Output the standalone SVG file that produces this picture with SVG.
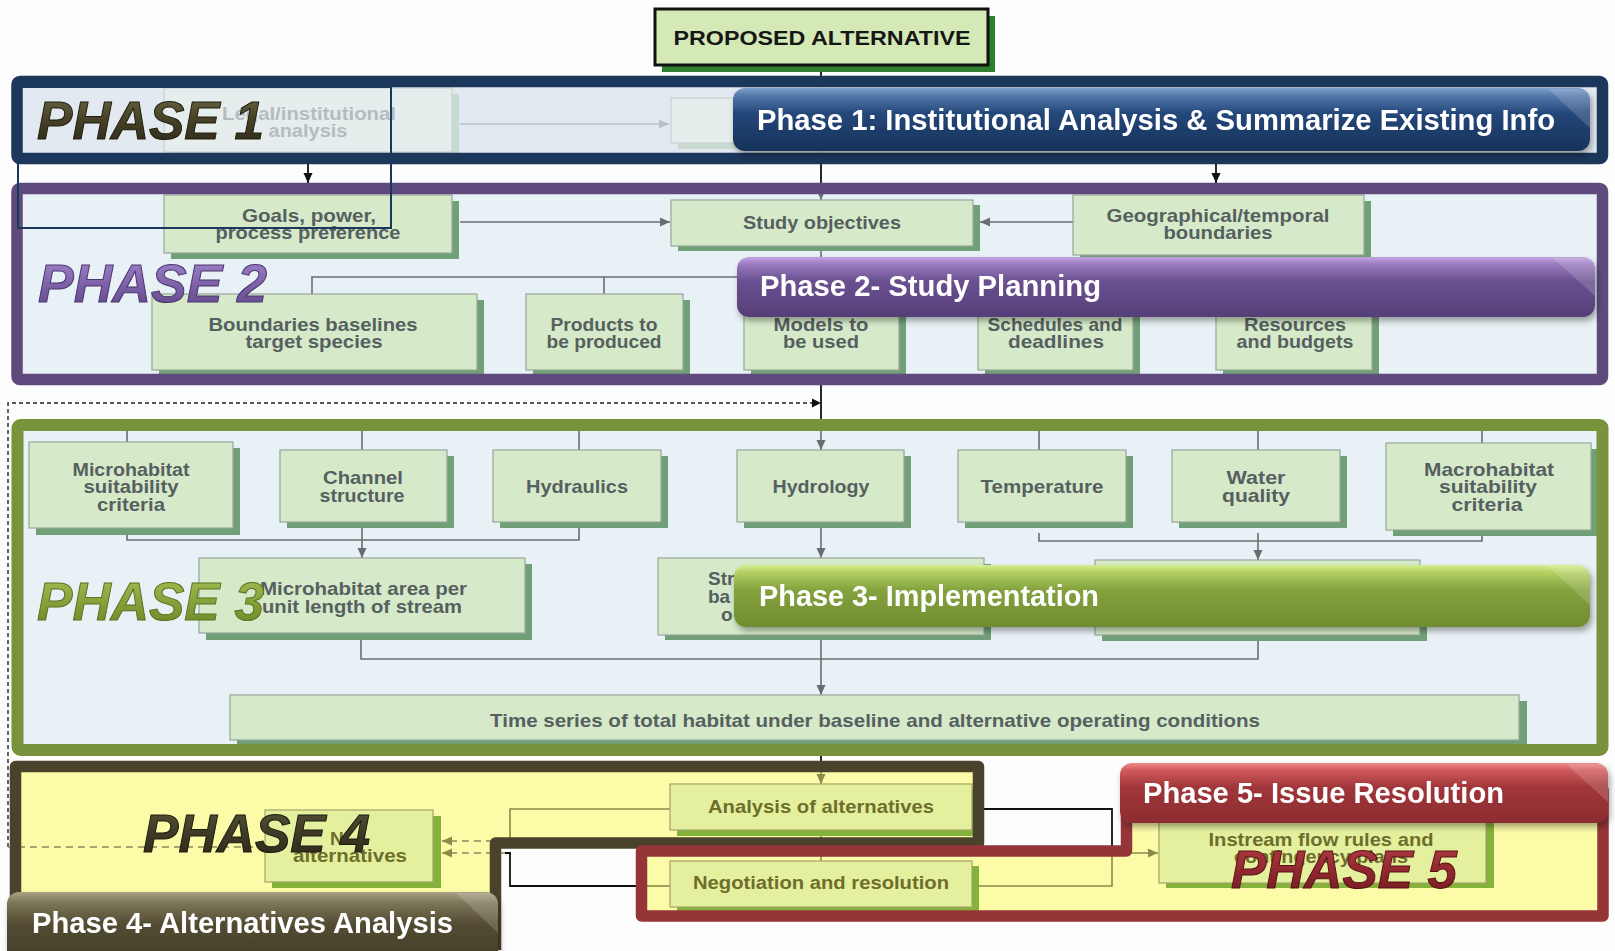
<svg xmlns="http://www.w3.org/2000/svg" width="1615" height="951" viewBox="0 0 1615 951">
<style>
  .bx{fill:#d6eaca;stroke:#97a69a;stroke-width:1.2}
  .sh{fill:#71a078}
  .fbx{fill:#e6eded;stroke:#c9d2d3;stroke-width:1.2}
  .fsh{fill:#c9dad0}
  .ybx{fill:#e4f09e;stroke:#a3a36c;stroke-width:1.2}
  .ysh{fill:#84b23a}
  .bt{font-family:"Liberation Sans",Arial,sans-serif;font-weight:bold;font-size:19px;fill:#566060;text-anchor:middle}
  .ft{fill:#b4bcc2}
  .yt{fill:#6e6e2c}
  .st{text-anchor:start}
  .ln{stroke:#6a6d6f;stroke-width:1.6;fill:none}
  .fl{stroke:#b9c1c8;stroke-width:1.6;fill:none}
  .bk{stroke:#111;stroke-width:1.8;fill:none}
  .ol{stroke:#8a8a4a;stroke-width:1.6;fill:none}
  .dash{stroke:#8a8a62;stroke-width:1.6;fill:none;stroke-dasharray:7 5}
  .dot{stroke:#222;stroke-width:1.4;fill:none;stroke-dasharray:4 3}
  .frame{fill:none;stroke-width:11.5;stroke-linejoin:round}
  .ban{font-family:"Liberation Sans",Arial,sans-serif;font-weight:bold;font-size:29px;fill:#fff}
  .facet{fill:#fff;opacity:0.16}
  .big{font-family:"Liberation Sans",Arial,sans-serif;font-weight:bold;font-style:italic;font-size:53px;stroke-width:1}
</style>
<defs>
  <marker id="aG" markerUnits="userSpaceOnUse" markerWidth="11" markerHeight="10" refX="10" refY="4.5" orient="auto"><path d="M0,0 L10,4.5 L0,9 z" fill="#6a6d6f"/></marker>
  <marker id="aF" markerUnits="userSpaceOnUse" markerWidth="11" markerHeight="10" refX="10" refY="4.5" orient="auto"><path d="M0,0 L10,4.5 L0,9 z" fill="#b9c1c8"/></marker>
  <marker id="aK" markerUnits="userSpaceOnUse" markerWidth="11" markerHeight="10" refX="10" refY="4.5" orient="auto"><path d="M0,0 L10,4.5 L0,9 z" fill="#111"/></marker>
  <marker id="aO" markerUnits="userSpaceOnUse" markerWidth="11" markerHeight="10" refX="10" refY="4.5" orient="auto"><path d="M0,0 L10,4.5 L0,9 z" fill="#8a8a4a"/></marker>
  <filter id="ds" x="-5%" y="-20%" width="110%" height="150%"><feDropShadow dx="2" dy="4" stdDeviation="3" flood-color="#000" flood-opacity="0.35"/></filter>
  <linearGradient id="gB1" x1="0" y1="0" x2="0" y2="1"><stop offset="0" stop-color="#7c9fcd"/><stop offset="0.12" stop-color="#5479aa"/><stop offset="0.4" stop-color="#24477a"/><stop offset="1" stop-color="#173259"/></linearGradient>
  <linearGradient id="gB2" x1="0" y1="0" x2="0" y2="1"><stop offset="0" stop-color="#c2a6e0"/><stop offset="0.12" stop-color="#9a7bc0"/><stop offset="0.4" stop-color="#6a5090"/><stop offset="1" stop-color="#553f78"/></linearGradient>
  <linearGradient id="gB3" x1="0" y1="0" x2="0" y2="1"><stop offset="0" stop-color="#d8ef92"/><stop offset="0.12" stop-color="#b3d062"/><stop offset="0.4" stop-color="#84a23e"/><stop offset="1" stop-color="#708c30"/></linearGradient>
  <linearGradient id="gB4" x1="0" y1="0" x2="0" y2="1"><stop offset="0" stop-color="#a8a286"/><stop offset="0.15" stop-color="#7c7658"/><stop offset="0.45" stop-color="#524b32"/><stop offset="1" stop-color="#443e28"/></linearGradient>
  <linearGradient id="gB5" x1="0" y1="0" x2="0" y2="1"><stop offset="0" stop-color="#f08a8a"/><stop offset="0.12" stop-color="#d05a5c"/><stop offset="0.4" stop-color="#a0363a"/><stop offset="1" stop-color="#8c2c30"/></linearGradient>
  <linearGradient id="gP1" x1="0" y1="0" x2="0" y2="1"><stop offset="0" stop-color="#6e6a44"/><stop offset="0.5" stop-color="#454026"/><stop offset="1" stop-color="#2a2716"/></linearGradient>
  <linearGradient id="gP2" x1="0" y1="0" x2="0" y2="1"><stop offset="0" stop-color="#a68ad0"/><stop offset="0.5" stop-color="#7f62a8"/><stop offset="1" stop-color="#5e4586"/></linearGradient>
  <linearGradient id="gP3" x1="0" y1="0" x2="0" y2="1"><stop offset="0" stop-color="#a9c25a"/><stop offset="0.5" stop-color="#86a23a"/><stop offset="1" stop-color="#6a8526"/></linearGradient>
  <linearGradient id="gP4" x1="0" y1="0" x2="0" y2="1"><stop offset="0" stop-color="#5a5538"/><stop offset="0.5" stop-color="#3e3a26"/><stop offset="1" stop-color="#282616"/></linearGradient>
  <linearGradient id="gP5" x1="0" y1="0" x2="0" y2="1"><stop offset="0" stop-color="#b44048"/><stop offset="0.5" stop-color="#92282f"/><stop offset="1" stop-color="#6e1a20"/></linearGradient>
</defs>

<!-- page -->
<rect width="1615" height="951" fill="#fdfdfd"/>

<!-- phase panel interiors -->
<g id="panel-fills">
  <rect x="17" y="81.5" width="1585.5" height="77" fill="#e3e9f1"/>
  <rect x="17" y="188.5" width="1585.5" height="191" fill="#e8f1f5"/>
  <rect x="17.5" y="425" width="1585" height="325" fill="#e8f1f5"/>
  <path d="M15.5,950 V766.5 H978.5 V843 H495.5 V950 Z" fill="#fbfba8"/>
  <path d="M641.5,851 H1126.5 V790 H1603 V916 H641.5 Z" fill="#fbfba8"/>
</g>

<!-- connectors -->
<g id="connectors">
  <!-- phase 1 -->
  <path class="bk" d="M821,65 V77"/>
  <path class="fl" d="M821,82 V160"/>
  <path class="fl" d="M460,124 H669" marker-end="url(#aF)"/>
  <path class="bk" d="M308,152 V183" marker-end="url(#aK)"/>
  <path class="bk" d="M1216,164 V183" marker-end="url(#aK)"/>
  <path class="bk" d="M821,164 V183"/>
  <!-- phase 2 -->
  <path class="ln" d="M821,192 V200" marker-end="url(#aG)"/>
  <path class="ln" d="M460,222 H670" marker-end="url(#aG)"/>
  <path class="ln" d="M1073,222 H980" marker-end="url(#aG)"/>
  <path class="ln" d="M821,250 V277 M312,294 V277 H1294 V294 M604,277 V294 M821,277 V294 M1055,277 V294"/>
  <!-- phase 2 to phase 3 -->
  <path class="bk" d="M821,373 V420"/>
  <path class="dot" d="M8,847 V403 H812"/>
  <path d="M812,398.5 L821,403 L812,407.5 z" fill="#111"/>
  <!-- phase 3 -->
  <path class="ln" d="M821,428 V450" marker-end="url(#aG)"/>
  <path class="ln" d="M127,428 V442 M362,428 V450 M579,428 V450 M1039,428 V450 M1258,428 V450 M1482,428 V443"/>
  <path class="ln" d="M127,535 V540 H579 V528"/>
  <path class="ln" d="M362,528 V558" marker-end="url(#aG)"/>
  <path class="ln" d="M821,528 V558" marker-end="url(#aG)"/>
  <path class="ln" d="M1039,533 V541 H1482 V536"/>
  <path class="ln" d="M1258,533 V560" marker-end="url(#aG)"/>
  <path class="ln" d="M361,640 V659 H1258 V640"/>
  <path class="ln" d="M821,640 V695" marker-end="url(#aG)"/>
  <!-- phase 3 to phase 4 -->
  <path class="bk" d="M821,740 V772"/>
  <path class="ol" d="M821,770 V784" marker-end="url(#aO)"/>
  <!-- phase 4 -->
  <path class="ol" d="M821,836 V861"/>
  <path class="ol" d="M670,809 H510 V840"/>
  <path class="bk" d="M505,853 H510 V886 H640"/>
  <path class="ol" d="M640,886 H670"/>
  <path class="dash" d="M505,841 H442" marker-end="url(#aO)"/>
  <path class="dash" d="M505,853 H442" marker-end="url(#aO)"/>
  <path class="dash" d="M265,847 H8"/>
  <path class="ol" d="M977,809 H986"/>
  <path class="bk" d="M984,809 H1112 V848"/>
  <path class="ol" d="M1112,850 V886 H977"/>
  <path class="ol" d="M1112,853 H1158" marker-end="url(#aO)"/>
</g>

<!-- phase 1 boxes (dimmed) -->
<g id="legal-analysis">
  <rect class="fsh" x="171" y="94" width="288" height="64"/>
  <rect class="fbx" x="164" y="88" width="288" height="64"/>
  <text class="bt ft" x="309" y="120" textLength="174" lengthAdjust="spacingAndGlyphs">Legal/institutional</text>
  <text class="bt ft" x="308" y="137" textLength="79" lengthAdjust="spacingAndGlyphs">analysis</text>
</g>
<g id="phase1-box">
  <rect class="fsh" x="678" y="104" width="80" height="45"/>
  <rect class="fbx" x="671" y="98" width="80" height="45"/>
</g>

<!-- proposed alternative -->
<g id="proposed-alternative">
  <rect x="662" y="16" width="333" height="56" fill="#2f7f30"/>
  <rect x="655" y="9" width="333" height="56" fill="#d4e9b6" stroke="#111" stroke-width="3"/>
  <text class="bt" x="822" y="45" style="font-size:21px;fill:#161616" textLength="297" lengthAdjust="spacingAndGlyphs">PROPOSED ALTERNATIVE</text>
</g>

<!-- phase 2 boxes -->
<g id="goals">
  <rect class="sh" x="171" y="201" width="288" height="58"/>
  <rect class="bx" x="164" y="195" width="288" height="58"/>
  <text class="bt" x="309" y="222" textLength="134" lengthAdjust="spacingAndGlyphs">Goals, power,</text>
  <text class="bt" x="308" y="239" textLength="185" lengthAdjust="spacingAndGlyphs">process preference</text>
</g>
<g id="study-objectives">
  <rect class="sh" x="678" y="205" width="302" height="46"/>
  <rect class="bx" x="671" y="200" width="302" height="46"/>
  <text class="bt" x="822" y="229" textLength="158" lengthAdjust="spacingAndGlyphs">Study objectives</text>
</g>
<g id="geo-boundaries">
  <rect class="sh" x="1080" y="201" width="291" height="60"/>
  <rect class="bx" x="1073" y="195" width="291" height="60"/>
  <text class="bt" x="1218" y="222" textLength="223" lengthAdjust="spacingAndGlyphs">Geographical/temporal</text>
  <text class="bt" x="1218" y="239" textLength="109" lengthAdjust="spacingAndGlyphs">boundaries</text>
</g>
<g id="boundaries-baselines">
  <rect class="sh" x="159" y="300" width="325" height="76"/>
  <rect class="bx" x="152" y="294" width="325" height="76"/>
  <text class="bt" x="313" y="331" textLength="209" lengthAdjust="spacingAndGlyphs">Boundaries baselines</text>
  <text class="bt" x="314" y="348" textLength="137" lengthAdjust="spacingAndGlyphs">target species</text>
</g>
<g id="products">
  <rect class="sh" x="533" y="300" width="157" height="76"/>
  <rect class="bx" x="526" y="294" width="157" height="76"/>
  <text class="bt" x="604" y="331" textLength="107" lengthAdjust="spacingAndGlyphs">Products to</text>
  <text class="bt" x="604" y="348" textLength="115" lengthAdjust="spacingAndGlyphs">be produced</text>
</g>
<g id="models">
  <rect class="sh" x="751" y="300" width="155" height="76"/>
  <rect class="bx" x="744" y="294" width="155" height="76"/>
  <text class="bt" x="821" y="331" textLength="95" lengthAdjust="spacingAndGlyphs">Models to</text>
  <text class="bt" x="821" y="348" textLength="76" lengthAdjust="spacingAndGlyphs">be used</text>
</g>
<g id="schedules">
  <rect class="sh" x="985" y="300" width="155" height="76"/>
  <rect class="bx" x="978" y="294" width="155" height="76"/>
  <text class="bt" x="1055" y="331" textLength="135" lengthAdjust="spacingAndGlyphs">Schedules and</text>
  <text class="bt" x="1056" y="348" textLength="96" lengthAdjust="spacingAndGlyphs">deadlines</text>
</g>
<g id="resources">
  <rect class="sh" x="1223" y="300" width="156" height="76"/>
  <rect class="bx" x="1216" y="294" width="156" height="76"/>
  <text class="bt" x="1295" y="331" textLength="102" lengthAdjust="spacingAndGlyphs">Resources</text>
  <text class="bt" x="1295" y="348" textLength="117" lengthAdjust="spacingAndGlyphs">and budgets</text>
</g>

<!-- phase 3 boxes -->
<g id="micro-criteria">
  <rect class="sh" x="36" y="448" width="204" height="87"/>
  <rect class="bx" x="29" y="442" width="204" height="86"/>
  <text class="bt" x="131" y="476" textLength="117" lengthAdjust="spacingAndGlyphs">Microhabitat</text>
  <text class="bt" x="131" y="493" textLength="95" lengthAdjust="spacingAndGlyphs">suitability</text>
  <text class="bt" x="131" y="511" textLength="68" lengthAdjust="spacingAndGlyphs">criteria</text>
</g>
<g id="channel">
  <rect class="sh" x="287" y="456" width="167" height="72"/>
  <rect class="bx" x="280" y="450" width="167" height="72"/>
  <text class="bt" x="363" y="484" textLength="80" lengthAdjust="spacingAndGlyphs">Channel</text>
  <text class="bt" x="362" y="502" textLength="85" lengthAdjust="spacingAndGlyphs">structure</text>
</g>
<g id="hydraulics">
  <rect class="sh" x="500" y="456" width="168" height="72"/>
  <rect class="bx" x="493" y="450" width="168" height="72"/>
  <text class="bt" x="577" y="493" textLength="102" lengthAdjust="spacingAndGlyphs">Hydraulics</text>
</g>
<g id="hydrology">
  <rect class="sh" x="744" y="456" width="167" height="72"/>
  <rect class="bx" x="737" y="450" width="167" height="72"/>
  <text class="bt" x="821" y="493" textLength="97" lengthAdjust="spacingAndGlyphs">Hydrology</text>
</g>
<g id="temperature">
  <rect class="sh" x="965" y="456" width="168" height="72"/>
  <rect class="bx" x="958" y="450" width="168" height="72"/>
  <text class="bt" x="1042" y="493" textLength="123" lengthAdjust="spacingAndGlyphs">Temperature</text>
</g>
<g id="water-quality">
  <rect class="sh" x="1179" y="456" width="168" height="72"/>
  <rect class="bx" x="1172" y="450" width="168" height="72"/>
  <text class="bt" x="1256" y="484" textLength="59" lengthAdjust="spacingAndGlyphs">Water</text>
  <text class="bt" x="1256" y="502" textLength="68" lengthAdjust="spacingAndGlyphs">quality</text>
</g>
<g id="macro-criteria">
  <rect class="sh" x="1393" y="449" width="205" height="87"/>
  <rect class="bx" x="1386" y="443" width="205" height="87"/>
  <text class="bt" x="1489" y="476" textLength="130" lengthAdjust="spacingAndGlyphs">Macrohabitat</text>
  <text class="bt" x="1488" y="493" textLength="98" lengthAdjust="spacingAndGlyphs">suitability</text>
  <text class="bt" x="1487" y="511" textLength="71" lengthAdjust="spacingAndGlyphs">criteria</text>
</g>
<g id="micro-area">
  <rect class="sh" x="206" y="564" width="326" height="76"/>
  <rect class="bx" x="199" y="558" width="326" height="75"/>
  <text class="bt st" x="260" y="595" textLength="207" lengthAdjust="spacingAndGlyphs">Microhabitat area per</text>
  <text class="bt st" x="262" y="613" textLength="200" lengthAdjust="spacingAndGlyphs">unit length of stream</text>
</g>
<g id="streamflow">
  <rect class="sh" x="665" y="564" width="326" height="76"/>
  <rect class="bx" x="658" y="558" width="326" height="77"/>
  <text class="bt st" x="708" y="585">Str</text>
  <text class="bt st" x="708" y="603">ba</text>
  <text class="bt st" x="721" y="621">o</text>
</g>
<g id="row2-right">
  <rect class="sh" x="1102" y="566" width="325" height="75"/>
  <rect class="bx" x="1095" y="560" width="325" height="75"/>
</g>
<g id="time-series">
  <rect class="sh" x="237" y="701" width="1290" height="45"/>
  <rect class="bx" x="230" y="695" width="1289" height="45"/>
  <text class="bt" x="875" y="727" textLength="770" lengthAdjust="spacingAndGlyphs">Time series of total habitat under baseline and alternative operating conditions</text>
</g>

<!-- phase 4 / 5 boxes -->
<g id="new-alternatives">
  <rect class="ysh" x="272" y="816" width="169" height="72"/>
  <rect class="ybx" x="265" y="810" width="168" height="72"/>
  <text class="bt yt st" x="330" y="845">N</text>
  <text class="bt yt" x="350" y="862" textLength="114" lengthAdjust="spacingAndGlyphs">alternatives</text>
</g>
<g id="analysis-alternatives">
  <rect class="ysh" x="677" y="790" width="302" height="46"/>
  <rect class="ybx" x="670" y="784" width="302" height="46"/>
  <text class="bt yt" x="821" y="813" textLength="226" lengthAdjust="spacingAndGlyphs">Analysis of alternatives</text>
</g>
<g id="negotiation">
  <rect class="ysh" x="677" y="866" width="302" height="45"/>
  <rect class="ybx" x="670" y="861" width="302" height="46"/>
  <text class="bt yt" x="821" y="889" textLength="256" lengthAdjust="spacingAndGlyphs">Negotiation and resolution</text>
</g>
<g id="instream-flow">
  <rect class="ysh" x="1166" y="806" width="328" height="82"/>
  <rect class="ybx" x="1159" y="800" width="327" height="83"/>
  <text class="bt yt" x="1321" y="846" textLength="225" lengthAdjust="spacingAndGlyphs">Instream flow rules and</text>
  <text class="bt yt" x="1321" y="863" textLength="174" lengthAdjust="spacingAndGlyphs">contingency plans</text>
</g>

<!-- phase frames -->
<g id="phase-frames">
  <rect class="frame" x="17" y="81.5" width="1585.5" height="77" rx="3" stroke="#1b375c"/>
  <rect class="frame" x="17" y="188.5" width="1585.5" height="191" rx="3" stroke="#5f4a7d"/>
  <rect class="frame" x="17.5" y="425" width="1585" height="325" rx="3" stroke="#79923c" style="stroke-width:12"/>
  <path class="frame" d="M15.5,950 V766.5 H978.5 V843 H495.5 V950" stroke="#4a432b"/>
  <path class="frame" d="M641.5,851 H1126.5 V790 H1603 V916 H641.5 Z" stroke="#963538"/>
</g>

<!-- phase banners -->
<g id="banner-1" filter="url(#ds)">
  <rect x="733" y="88" width="857" height="63" rx="12" fill="url(#gB1)"/>
  <path class="facet" d="M1548,89 L1578,89 Q1590,89 1590,101 L1590,128 Z"/>
  <text class="ban" x="757" y="130" textLength="798" lengthAdjust="spacingAndGlyphs">Phase 1: Institutional Analysis &amp; Summarize Existing Info</text>
</g>
<g id="banner-2" filter="url(#ds)">
  <rect x="737" y="257" width="858" height="60" rx="12" fill="url(#gB2)"/>
  <path class="facet" d="M1553,258 L1583,258 Q1595,258 1595,270 L1595,296 Z"/>
  <text class="ban" x="760" y="296" textLength="341" lengthAdjust="spacingAndGlyphs">Phase 2- Study Planning</text>
</g>
<g id="banner-3" filter="url(#ds)">
  <rect x="734" y="565" width="856" height="62" rx="12" fill="url(#gB3)"/>
  <path class="facet" d="M1548,566 L1578,566 Q1590,566 1590,578 L1590,605 Z"/>
  <text class="ban" x="759" y="606" textLength="340" lengthAdjust="spacingAndGlyphs">Phase 3- Implementation</text>
</g>
<g id="banner-5" filter="url(#ds)">
  <rect x="1120" y="763" width="488" height="60" rx="12" fill="url(#gB5)"/>
  <path class="facet" d="M1566,764 L1596,764 Q1608,764 1608,776 L1608,802 Z"/>
  <text class="ban" x="1143" y="803" textLength="361" lengthAdjust="spacingAndGlyphs">Phase 5- Issue Resolution</text>
</g>
<g id="banner-4" filter="url(#ds)">
  <rect x="7" y="892" width="491" height="72" rx="12" fill="url(#gB4)"/>
  <path class="facet" d="M456,893 L486,893 Q498,893 498,905 L498,933 Z"/>
  <text class="ban" x="32" y="933" textLength="421" lengthAdjust="spacingAndGlyphs">Phase 4- Alternatives  Analysis</text>
</g>

<!-- phase titles -->
<g id="phase-titles">
  <text class="big" x="37" y="139" fill="url(#gP1)" stroke="#1f1c10" textLength="227" lengthAdjust="spacingAndGlyphs">PHASE 1</text>
  <text class="big" x="38" y="302" fill="url(#gP2)" stroke="#4a3570" textLength="229" lengthAdjust="spacingAndGlyphs">PHASE 2</text>
  <text class="big" x="37" y="620" fill="url(#gP3)" stroke="#5a7220" textLength="227" lengthAdjust="spacingAndGlyphs">PHASE 3</text>
  <text class="big" x="143" y="852" fill="url(#gP4)" stroke="#1c1a0e" textLength="227" lengthAdjust="spacingAndGlyphs">PHASE 4</text>
  <text class="big" x="1231" y="888" fill="url(#gP5)" stroke="#5a1016" textLength="226" lengthAdjust="spacingAndGlyphs">PHASE 5</text>
</g>

<!-- outline linking phase 1 and phase 2 -->
<rect id="phase-link-outline" x="18" y="87" width="373" height="141" fill="none" stroke="#1b375c" stroke-width="2"/>
</svg>
